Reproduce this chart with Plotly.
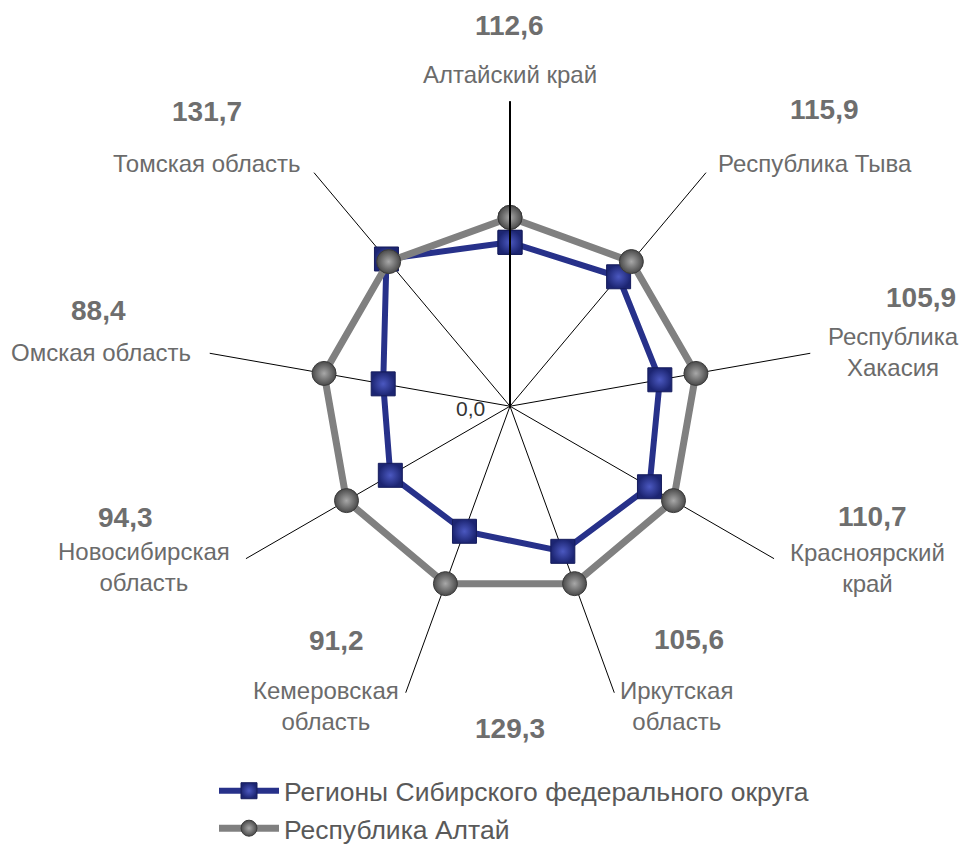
import plotly.graph_objects as go

# ---------------- data ----------------
categories = ["Алтайский край", "Республика Тыва", "Республика Хакасия",
              "Красноярский край", "Иркутская область", "Кемеровская область",
              "Новосибирская область", "Омская область", "Томская область"]
category_text = ["Алтайский край", "Республика Тыва", "Республика<br>Хакасия",
                 "Красноярский<br>край", "Иркутская<br>область", "Кемеровская<br>область",
                 "Новосибирская<br>область", "Омская область", "Томская область"]
siberia_values = [86.8, 89.5, 80.6, 85.3, 81.8, 70.5, 73.2, 68.2, 101.8]
altai_values = [100.0, 100.0, 100.0, 100.0, 100.0, 100.0, 100.0, 100.0, 100.0]
value_labels = ["112,6", "115,9", "105,9", "110,7", "105,6", "91,2", "94,3", "88,4", "131,7"]
extra_value_label = "129,3"
radial_tick_text = "0,0"
series_names = ["Регионы Сибирского федерального округа", "Республика Алтай"]

# ---------------- layout helpers (pixel positions of text) ----------------
W, H = 966, 852
label_px = [(510, 76), (815, 166), (893, 358), (867, 577), (676, 718),
            (326, 718), (144, 576), (101, 358), (207, 166)]
number_px = [(509, 26), (824, 111), (921, 302), (872, 525), (689, 650),
             (336, 651), (125, 526), (98, 316), (207, 113)]
extra_px = (510, 741)
zero_px = (470, 415)

cx, cy, R = 510, 413, 310


def px(x, y):
    return x / W, 1 - y / H


FONT = "Liberation Sans, Arial, sans-serif"

fig = go.Figure()

theta_closed = categories + categories[:1]

fig.add_trace(go.Scatterpolar(
    r=siberia_values + siberia_values[:1],
    theta=theta_closed,
    mode="lines+markers",
    name=series_names[0],
    legendrank=1,
    line=dict(color="#27318a", width=6),
    marker=dict(symbol="square", size=24, color="#1c2572",
                gradient=dict(type="radial", color="#4b58c0"),
                line=dict(color="#151c5c", width=1)),
))
fig.add_trace(go.Scatterpolar(
    r=altai_values + altai_values[:1],
    theta=theta_closed,
    mode="lines+markers",
    name=series_names[1],
    legendrank=2,
    line=dict(color="#808080", width=7),
    marker=dict(symbol="circle", size=24, color="#4a4a4a",
                gradient=dict(type="radial", color="#a8a8a8"),
                line=dict(color="#3a3a3a", width=1)),
))

annotations = []
for txt, (x, y) in zip(category_text, label_px):
    ax, ay = px(x, y)
    annotations.append(dict(x=ax, y=ay, xref="paper", yref="paper", text=txt,
                            showarrow=False, xanchor="center", yanchor="middle",
                            align="center", bgcolor="white",
                            font=dict(family=FONT, size=24, color="#6b6b6b")))
for txt, (x, y) in zip(value_labels + [extra_value_label], number_px + [extra_px]):
    ax, ay = px(x, y)
    annotations.append(dict(x=ax, y=ay, xref="paper", yref="paper",
                            text="<b>" + txt + "</b>",
                            showarrow=False, xanchor="center", yanchor="middle",
                            font=dict(family=FONT, size=28, color="#6e6e6e")))
ax, ay = px(*zero_px)
annotations.append(dict(x=ax, y=ay, xref="paper", yref="paper", text=radial_tick_text,
                        showarrow=False, xanchor="center", yanchor="middle",
                        font=dict(family=FONT, size=21, color="#333333")))

lx, ly = px(214, 780)

fig.update_layout(
    width=W, height=H,
    margin=dict(l=0, r=0, t=0, b=0),
    paper_bgcolor="white",
    plot_bgcolor="white",
    font=dict(family=FONT),
    polar=dict(
        domain=dict(x=[(cx - R) / W, (cx + R) / W], y=[1 - (cy + R) / H, 1 - (cy - R) / H]),
        bgcolor="white",
        gridshape="linear",
        radialaxis=dict(range=[0, 161.5], showticklabels=False, ticks="",
                        showgrid=False, showline=True, linecolor="black",
                        linewidth=2, angle=90),
        angularaxis=dict(type="category", categoryarray=categories,
                         rotation=90, direction="clockwise",
                         showgrid=True, gridcolor="black", gridwidth=1,
                         showline=False, showticklabels=False, ticks=""),
    ),
    showlegend=True,
    legend=dict(x=lx, y=ly, xanchor="left", yanchor="top",
                font=dict(family=FONT, size=26.5, color="#595959"),
                bgcolor="rgba(0,0,0,0)", itemwidth=60, tracegroupgap=0),
    annotations=annotations,
)

fig.write_html("out.html", config={"displayModeBar": False},
               post_script="document.body.style.margin='0';document.body.style.overflow='hidden';")
